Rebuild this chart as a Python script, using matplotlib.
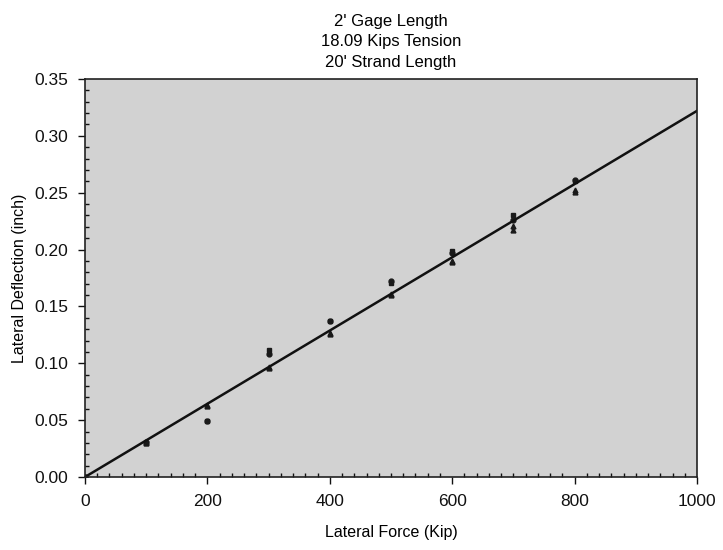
import numpy as np
import matplotlib
matplotlib.use('Agg')
import matplotlib.pyplot as plt
from matplotlib.ticker import MultipleLocator

plt.rcParams['font.family'] = ['Liberation Sans', 'DejaVu Sans']

# measured lateral deflections at each load step
force = [0, 100, 200, 300, 400, 500, 600, 700, 800]
defl_sq = [0.0, 0.030, 0.049, 0.112, 0.137, 0.171, 0.199, 0.230, 0.260]
defl_ci = [0.0, 0.031, 0.049, 0.108, 0.137, 0.172, 0.197, 0.226, 0.261]
defl_tr = [0.0, 0.031, 0.063, 0.096, 0.127, 0.161, 0.189, 0.217, 0.252]
defl_tr2 = [0.0, 0.030, 0.062, 0.097, 0.126, 0.160, 0.190, 0.221, 0.251]

# linear fit through the origin
fit_x = [0, 1000]
fit_slope = 0.000322

fig = plt.figure(figsize=(7.23, 5.5), dpi=100)
ax = fig.add_axes([85/723, 1 - 477/550, 612/723, 398/550])
ax.set_facecolor('#d2d2d2')

ax.plot(force, defl_sq, 's', color='#1a1a1a', ms=3.5)
ax.plot(force, defl_ci, 'o', color='#1a1a1a', ms=3.5)
ax.plot(force, defl_tr, '^', color='#1a1a1a', ms=3.5)
ax.plot(force, defl_tr2, '^', color='#1a1a1a', ms=3.5)
ax.plot(fit_x, [fit_slope*v for v in fit_x], color='#111111', lw=1.8)

ax.set_xlim(0, 1000)
ax.set_ylim(0, 0.35)
ax.xaxis.set_major_locator(MultipleLocator(200))
ax.xaxis.set_minor_locator(MultipleLocator(20))
ax.yaxis.set_major_locator(MultipleLocator(0.05))
ax.yaxis.set_minor_locator(MultipleLocator(0.01))
ax.yaxis.set_major_formatter(plt.FuncFormatter(lambda v, p: '%.2f' % v))
ax.tick_params(which='major', direction='out', length=5, width=1, labelsize=12.5,
               colors='#111111', pad=7)
ax.tick_params(which='minor', direction='in', length=3, width=1, color='#111111')
for s in ax.spines.values():
    s.set_linewidth(1.2)
    s.set_color('#222222')

ax.set_xlabel('Lateral Force (Kip)', fontsize=11.5, labelpad=12)
ax.set_ylabel('Lateral Deflection (inch)', fontsize=11.5, labelpad=5)
ax.set_title("2' Gage Length\n18.09 Kips Tension\n20' Strand Length", fontsize=12,
             pad=9, linespacing=1.45)

fig.savefig('out.png', dpi=100)
